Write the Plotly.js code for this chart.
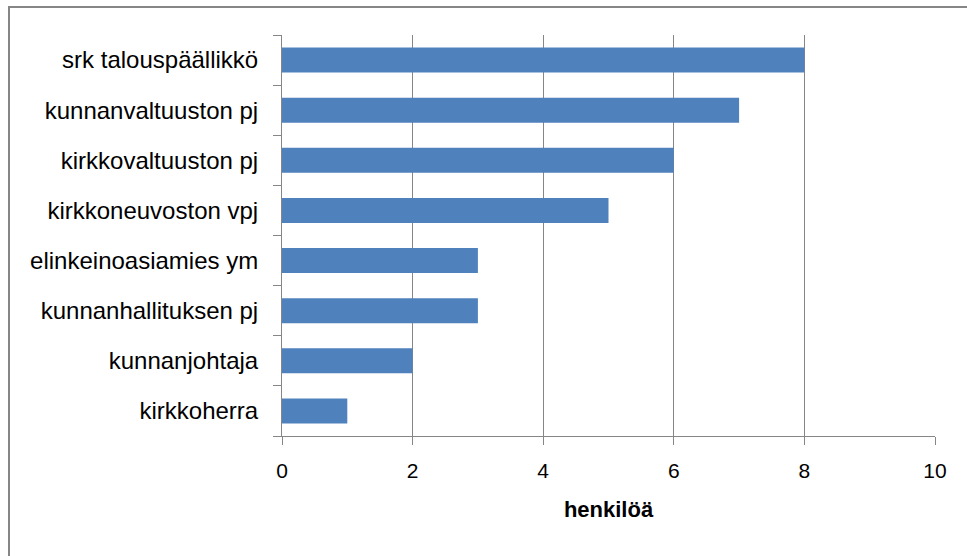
<!DOCTYPE html>
<html><head><meta charset="utf-8">
<script src="https://cdn.plot.ly/plotly-3.0.1.min.js"></script>
<style>
html,body{margin:0;padding:0;background:#fff;overflow:hidden}
#frame{position:absolute;left:8px;top:6px;width:1000px;height:600px;border:2px solid #868686;box-sizing:border-box}
#chart{position:absolute;left:0;top:0;width:967px;height:556px}
</style></head>
<body>
<div id="frame"></div>
<div id="chart"></div>
<script>
const categories = ["kirkkoherra","kunnanjohtaja","kunnanhallituksen pj","elinkeinoasiamies ym","kirkkoneuvoston vpj","kirkkovaltuuston pj","kunnanvaltuuston pj","srk talouspäällikkö"];
const values = [1,2,3,3,5,6,7,8];
const xTicks = [0,2,4,6,8,10];
const xTitle = "henkilöä";

Plotly.newPlot('chart',[{
  type:'bar', orientation:'h', y:categories, x:values,
  marker:{color:'#4F81BD'}, hoverinfo:'none'
}],{
  width:967,height:556,
  paper_bgcolor:'rgba(0,0,0,0)',plot_bgcolor:'rgba(0,0,0,0)',
  margin:{l:282,r:32,t:35,b:120},
  bargap:0.5,
  showlegend:false,
  font:{family:'Liberation Sans, Arial, sans-serif',size:22,color:'#000'},
  xaxis:{range:[0,10],tickvals:xTicks,ticktext:xTicks.map(String),showgrid:true,gridcolor:'#868686',gridwidth:1,
    showline:true,linecolor:'#868686',linewidth:1,ticks:'outside',ticklen:8,tickcolor:'#868686',zeroline:false,
    fixedrange:true,tickfont:{size:21},ticklabelstandoff:8,
    title:{text:'<b>'+xTitle+'</b>',font:{size:22},standoff:20}},
  yaxis:{showline:true,linecolor:'#868686',ticks:'outside',ticklen:8,tickcolor:'#868686',tickson:'boundaries',
    showgrid:false,zeroline:false,fixedrange:true,ticklabelstandoff:18,tickfont:{size:24}}
},{displayModeBar:false,staticPlot:true});
</script>
</body></html>
